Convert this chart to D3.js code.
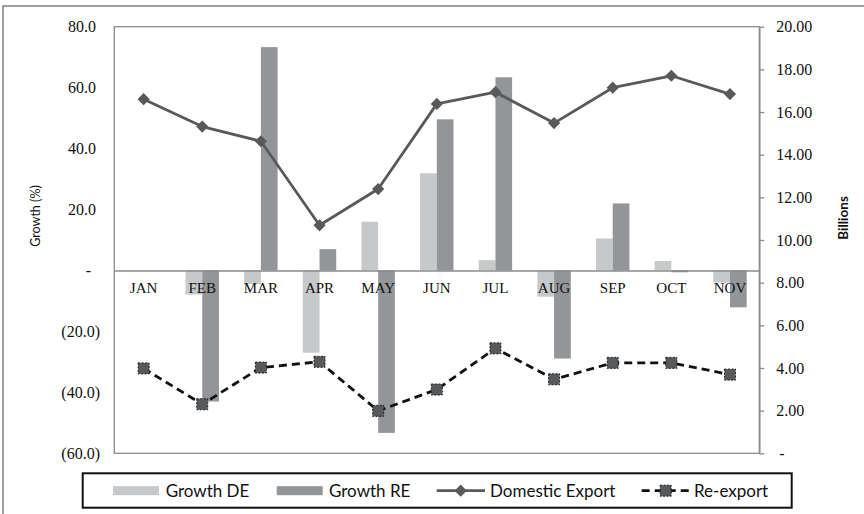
<!DOCTYPE html>
<html>
<head>
<meta charset="utf-8">
<script src="https://cdn.jsdelivr.net/npm/d3@7"></script>
<style>
  html, body { margin: 0; padding: 0; background: #fff; }
  svg { display: block; }
</style>
</head>
<body>
<svg id="chart" width="864" height="514"></svg>
<script>
// Monthly export data
const months = ["JAN", "FEB", "MAR", "APR", "MAY", "JUN", "JUL", "AUG", "SEP", "OCT", "NOV"];
const growthDE = [0, -7.9, -4.5, -27.0, 16.0, 31.9, 3.4, -8.6, 10.5, 3.1, -4.0];
const growthRE = [0, -43.0, 73.3, 7.0, -53.3, 49.6, 63.4, -28.9, 22.0, -0.6, -12.1];
const domesticExport = [16.6, 15.32, 14.63, 10.69, 12.39, 16.38, 16.93, 15.48, 17.14, 17.70, 16.84];
const reExport = [3.98, 2.30, 4.02, 4.29, 1.99, 2.99, 4.92, 3.47, 4.24, 4.24, 3.69];
const growthTicks = [-60, -40, -20, 0, 20, 40, 60, 80];
const billionTicks = [0, 2, 4, 6, 8, 10, 12, 14, 16, 18, 20];

const svg = d3.select("#chart");
const plot = { left: 114.3, right: 759.3, top: 26.7, bottom: 453.3 };

const x = d3.scaleBand().domain(months).range([plot.left, plot.right]);
const yL = d3.scaleLinear().domain([-60, 80]).range([plot.bottom, plot.top]);
const yR = d3.scaleLinear().domain([0, 20]).range([plot.bottom, plot.top]);

const serif = "'Liberation Serif', 'Times New Roman', serif";
const sans = "Lato, 'Liberation Sans', sans-serif";
const lineColor = "#58595b";
const deColor = "#c7c8ca";
const reColor = "#939598";
const barW = 16.7;

// outer chart frame
svg.append("rect")
  .attr("x", 3).attr("y", 6).attr("width", 900).attr("height", 540)
  .attr("fill", "none").attr("stroke", "#6d6d6d").attr("stroke-width", 1.3);

// plot area frame
svg.append("rect")
  .attr("x", plot.left).attr("y", plot.top)
  .attr("width", plot.right - plot.left).attr("height", plot.bottom - plot.top)
  .attr("fill", "#fff").attr("stroke", "#8c8c8c").attr("stroke-width", 1.3);

// growth bars
const cx = m => x(m) + x.bandwidth() / 2;
svg.append("g").selectAll("rect")
  .data(months.map((m, i) => ({ m, v: growthDE[i] })))
  .join("rect")
  .attr("x", d => cx(d.m) - barW)
  .attr("y", d => yL(Math.max(0, d.v)))
  .attr("width", barW)
  .attr("height", d => Math.abs(yL(d.v) - yL(0)))
  .attr("fill", deColor);

svg.append("g").selectAll("rect")
  .data(months.map((m, i) => ({ m, v: growthRE[i] })))
  .join("rect")
  .attr("x", d => cx(d.m))
  .attr("y", d => yL(Math.max(0, d.v)))
  .attr("width", barW)
  .attr("height", d => Math.abs(yL(d.v) - yL(0)))
  .attr("fill", reColor);

// left axis (growth %)
const fmtL = v => v === 0 ? "-" : (v < 0 ? "(" + d3.format(".1f")(-v) + ")" : d3.format(".1f")(v));
const axL = svg.append("g")
  .attr("transform", `translate(${plot.left},0)`)
  .call(d3.axisLeft(yL).tickValues(growthTicks).tickFormat(fmtL).tickSize(0).tickPadding(18.3));
axL.select(".domain").remove();
axL.selectAll("text")
  .attr("font-family", serif).attr("font-size", 16).attr("fill", "#111")
  .attr("dx", d => d < 0 ? 4 : (d === 0 ? -5 : 0));

// right axis (billions)
const fmtR = v => v === 0 ? "-" : d3.format(".2f")(v);
const axR = svg.append("g")
  .attr("transform", `translate(${plot.right},0)`)
  .call(d3.axisRight(yR).tickValues(billionTicks).tickFormat(fmtR).tickSize(5).tickSizeOuter(0).tickPadding(12));
axR.select(".domain").attr("stroke", "#8c8c8c").attr("stroke-width", 1.5);
axR.selectAll(".tick line").attr("stroke", "#8c8c8c").attr("stroke-width", 1.3);
axR.selectAll("text")
  .attr("font-family", serif).attr("font-size", 16).attr("fill", "#111")
  .attr("dx", d => d === 0 ? 3 : 0);

// category axis on the zero line
const axX = svg.append("g")
  .attr("transform", `translate(0,${yL(0)})`)
  .call(d3.axisBottom(x).tickSize(0).tickSizeOuter(0).tickPadding(12.2));
axX.select(".domain").attr("stroke", "#8a8a8a").attr("stroke-width", 1.4);
axX.selectAll("text")
  .attr("font-family", serif).attr("font-size", 15).attr("fill", "#111");

// axis titles
svg.append("text")
  .attr("transform", `translate(40,216) rotate(-90)`)
  .attr("text-anchor", "middle")
  .attr("font-family", sans).attr("font-size", 12.5).attr("fill", "#111")
  .text("Growth (%)");
svg.append("text")
  .attr("transform", `translate(848,218) rotate(-90)`)
  .attr("text-anchor", "middle")
  .attr("font-family", sans).attr("font-size", 13.5).attr("font-weight", "bold").attr("fill", "#111")
  .text("Billions");

// domestic export line
const lineDE = d3.line().x((d, i) => cx(months[i])).y(d => yR(d));
svg.append("path")
  .attr("d", lineDE(domesticExport))
  .attr("fill", "none").attr("stroke", lineColor).attr("stroke-width", 2.8)
  .attr("stroke-linejoin", "round");
const diamond = d3.symbol().type(d3.symbolDiamond2).size(95);
svg.append("g").selectAll("path")
  .data(domesticExport)
  .join("path")
  .attr("transform", (d, i) => `translate(${cx(months[i])},${yR(d)})`)
  .attr("d", diamond())
  .attr("fill", lineColor);

// re-export line
svg.append("path")
  .attr("d", lineDE(reExport))
  .attr("fill", "none").attr("stroke", "#111").attr("stroke-width", 2.8)
  .attr("stroke-dasharray", "8,5");
svg.append("g").selectAll("rect")
  .data(reExport)
  .join("rect")
  .attr("x", (d, i) => cx(months[i]) - 5.5)
  .attr("y", d => yR(d) - 5.5)
  .attr("width", 11).attr("height", 11)
  .attr("fill", lineColor).attr("stroke", "#222").attr("stroke-width", 1)
  .attr("stroke-dasharray", "2,1.5");

// legend
const lg = svg.append("g");
lg.append("rect")
  .attr("x", 82.7).attr("y", 473.3).attr("width", 709).attr("height", 34.4)
  .attr("fill", "#fff").attr("stroke", "#111").attr("stroke-width", 2);
const ly = 490.7;
lg.append("rect").attr("x", 113).attr("y", ly - 4.5).attr("width", 46).attr("height", 9).attr("fill", deColor);
lg.append("rect").attr("x", 276.7).attr("y", ly - 4.5).attr("width", 46).attr("height", 9).attr("fill", reColor);
lg.append("line").attr("x1", 436.7).attr("x2", 485).attr("y1", ly).attr("y2", ly)
  .attr("stroke", lineColor).attr("stroke-width", 2.8);
lg.append("path").attr("transform", `translate(460.7,${ly})`).attr("d", diamond()).attr("fill", lineColor);
lg.append("line").attr("x1", 641.7).attr("x2", 690.7).attr("y1", ly).attr("y2", ly)
  .attr("stroke", "#111").attr("stroke-width", 2.8).attr("stroke-dasharray", "8,5");
lg.append("rect").attr("x", 665.7 - 5.5).attr("y", ly - 5.5).attr("width", 11).attr("height", 11)
  .attr("fill", lineColor).attr("stroke", "#222").attr("stroke-width", 1).attr("stroke-dasharray", "2,1.5");
const legendLabels = [["Growth DE", 165.7], ["Growth RE", 329], ["Domestic Export", 490], ["Re-export", 694]];
lg.selectAll("text.lbl")
  .data(legendLabels)
  .join("text")
  .attr("class", "lbl")
  .attr("x", d => d[1]).attr("y", ly).attr("dy", "0.35em")
  .attr("font-family", sans).attr("font-size", 17).attr("fill", "#111")
  .text(d => d[0]);
</script>
</body>
</html>
